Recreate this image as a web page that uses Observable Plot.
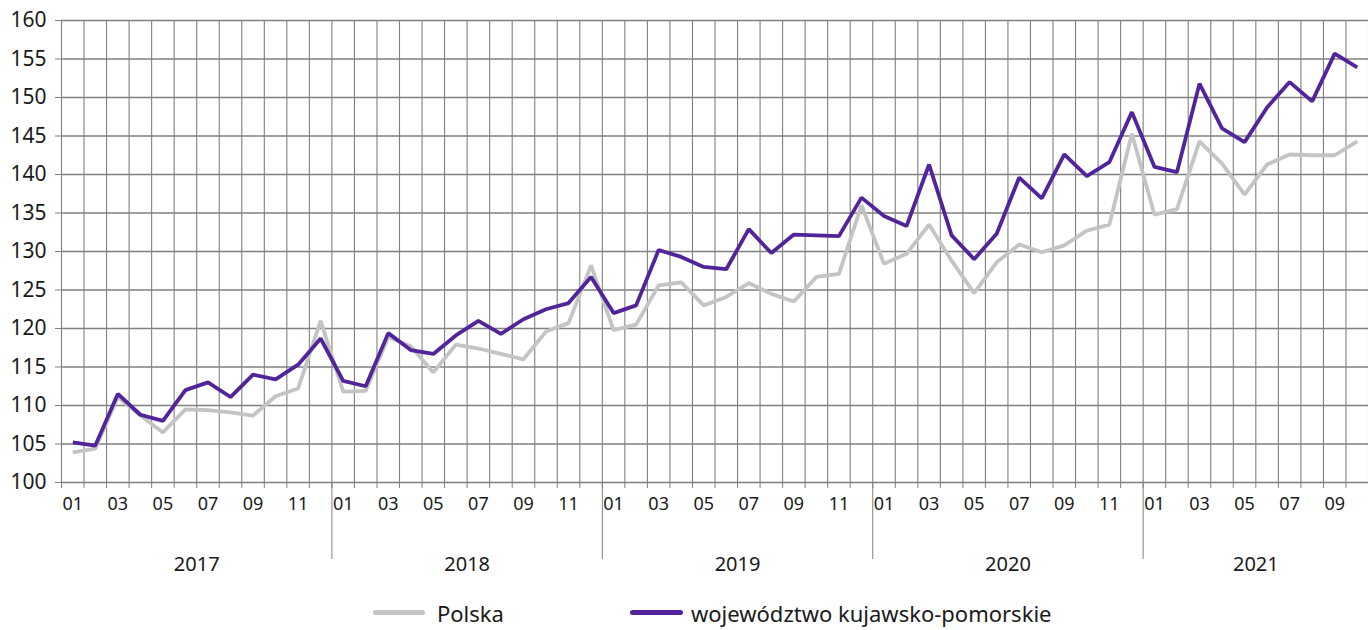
<!DOCTYPE html>
<html>
<head>
<meta charset="utf-8">
<script src="https://cdn.jsdelivr.net/npm/d3@7"></script>
<script src="https://cdn.jsdelivr.net/npm/@observablehq/plot@0.6"></script>
<style>
  html, body { margin: 0; padding: 0; background: #fff; }
  body { width: 1368px; height: 630px; overflow: hidden; font-family: "Noto Sans", sans-serif; color: #1a1a1a; }
  #legend { height: 35px; display: flex; align-items: center; font-size: 22px; padding-left: 373px; }
  .item { display: flex; align-items: center; }
  .sw { display: inline-block; height: 5px; border-radius: 3px; }
</style>
</head>
<body>
<div id="chart"></div>
<div id="legend">
  <div class="item" style="width:257px"><span class="sw" style="width:52px;background:#c4c4c4;margin-right:12px"></span><span>Polska</span></div>
  <div class="item"><span class="sw" style="width:53px;background:#52249a;margin-right:8px"></span><span>województwo kujawsko-pomorskie</span></div>
</div>
<script>
const years = [2017, 2018, 2019, 2020, 2021];
const monthsPerYear = [12, 12, 12, 12, 10];
const monthTickLabels = ["01", "03", "05", "07", "09", "11"];
const yTicks = [100, 105, 110, 115, 120, 125, 130, 135, 140, 145, 150, 155, 160];
const seriesNames = ["Polska", "województwo kujawsko-pomorskie"];

const polska = [
  103.9, 104.4, 111.1, 108.7, 106.5, 109.5, 109.4, 109.1, 108.7, 111.2, 112.2, 121.0,
  111.8, 111.9, 118.9, 117.7, 114.3, 117.9, 117.4, 116.7, 116.0, 119.6, 120.7, 128.2,
  119.8, 120.5, 125.6, 126.0, 123.0, 124.1, 125.9, 124.5, 123.5, 126.7, 127.1, 136.0,
  128.4, 129.7, 133.5, 128.8, 124.6, 128.6, 130.9, 129.9, 130.8, 132.7, 133.5, 145.3,
  134.8, 135.5, 144.3, 141.4, 137.4, 141.3, 142.6, 142.5, 142.5, 144.3
];
const kujawsko = [
  105.2, 104.8, 111.5, 108.8, 108.0, 112.0, 113.0, 111.1, 114.0, 113.4, 115.3, 118.7,
  113.2, 112.5, 119.4, 117.2, 116.7, 119.1, 121.0, 119.3, 121.2, 122.5, 123.3, 126.7,
  122.0, 123.0, 130.2, 129.3, 128.0, 127.7, 132.9, 129.8, 132.2, 132.1, 132.0, 137.0,
  134.6, 133.3, 141.3, 132.1, 129.0, 132.3, 139.6, 136.9, 142.6, 139.8, 141.6, 148.1,
  141.0, 140.3, 151.8, 146.0, 144.2, 148.7, 152.0, 149.5, 155.7, 153.9
];

// month index layout
const months = [];
const yearStart = [];
years.forEach((yr, k) => {
  yearStart.push(months.length);
  for (let m = 1; m <= monthsPerYear[k]; m++) months.push({year: yr, month: m});
});
const n = months.length;
const boundaries = d3.range(0, n + 1);
const yearBoundaries = yearStart.slice(1);
const yearCenters = years.map((yr, k) => yearStart[k] + monthsPerYear[k] / 2);
const monthTicks = [];
const monthTickText = new Map();
months.forEach((d, i) => {
  const lbl = String(d.month).padStart(2, "0");
  if (monthTickLabels.includes(lbl)) { monthTicks.push(i + 0.5); monthTickText.set(i + 0.5, lbl); }
});

const rows = [];
months.forEach((d, i) => {
  rows.push({pos: i + 0.5, value: polska[i], series: seriesNames[0]});
});
months.forEach((d, i) => {
  rows.push({pos: i + 0.5, value: kujawsko[i], series: seriesNames[1]});
});

const gridColor = "#808080";
const chart = Plot.plot({
  width: 1368,
  height: 595,
  marginTop: 20,
  marginBottom: 113,
  marginLeft: 61,
  marginRight: 0,
  style: {fontFamily: "Noto Sans, sans-serif", color: "#1a1a1a", background: "#fff"},
  x: {type: "linear", domain: [0, n], label: null, axis: null},
  y: {domain: [100, 160], label: null, axis: null},
  color: {domain: seriesNames, range: ["#c4c4c4", "#52249a"]},
  marks: [
    Plot.gridY(yTicks, {stroke: gridColor, strokeOpacity: 1, strokeWidth: 1.3}),
    Plot.gridX(boundaries, {stroke: gridColor, strokeOpacity: 1, strokeWidth: 1.1}),
    Plot.axisX(boundaries, {tickSize: 6, tickFormat: () => "", stroke: gridColor, label: null}),
    Plot.axisX(yearBoundaries, {tickSize: 77, tickFormat: () => "", stroke: gridColor, label: null}),
    Plot.axisX(monthTicks, {tickSize: 0, tickPadding: 15, fontSize: 18, tickFormat: d => monthTickText.get(d), label: null}),
    Plot.axisX(yearCenters, {tickSize: 0, tickPadding: 74, fontSize: 20, tickFormat: d => String(years[yearCenters.indexOf(d)]), label: null}),
    Plot.axisY(yTicks, {tickSize: 6, tickPadding: 9, fontSize: 21, stroke: gridColor, tickFormat: d => String(d), label: null}),
    Plot.line(rows, {x: "pos", y: "value", z: "series", stroke: "series", strokeWidth: 3.8, strokeLinejoin: "miter", strokeLinecap: "butt"})
  ]
});
document.getElementById("chart").appendChild(chart);
</script>
</body>
</html>
